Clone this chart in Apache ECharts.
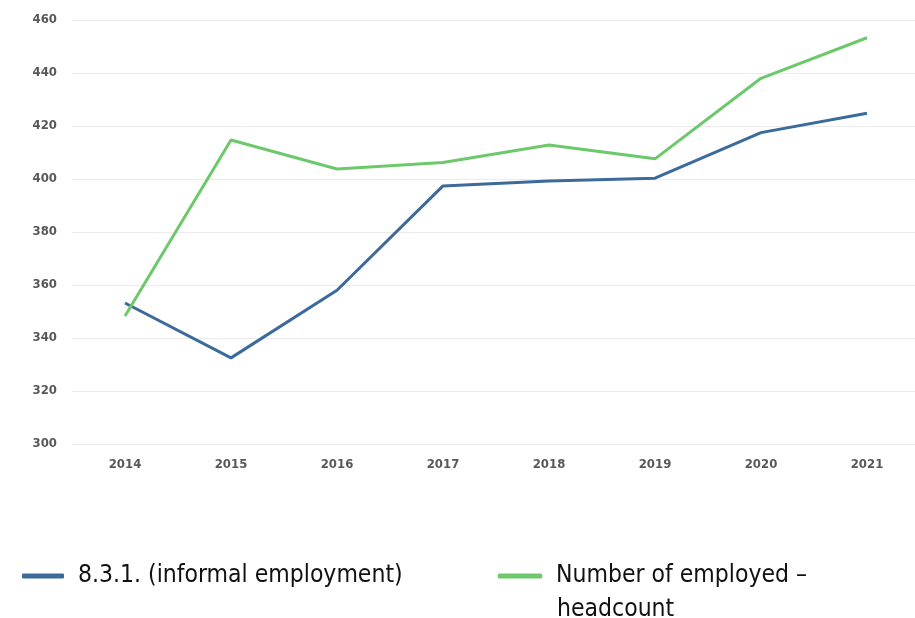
<!DOCTYPE html>
<html>
<head>
<meta charset="utf-8">
<script src="https://cdn.jsdelivr.net/npm/echarts@6/dist/echarts.min.js"></script>
<style>
  html, body { margin: 0; padding: 0; background: #ffffff; overflow: hidden; }
  /* the plot area runs slightly past the right edge of the page */
  #chart { width: 925px; height: 618px; }
</style>
</head>
<body>
<div id="chart"></div>
<script>
// Years on the category axis
const years = ['2014', '2015', '2016', '2017', '2018', '2019', '2020', '2021'];
// 8.3.1. informal employment
const informal = [353.2, 332.5, 358.0, 397.4, 399.2, 400.3, 417.5, 424.8];
// Number of employed – headcount
const employed = [348.3, 414.7, 403.8, 406.2, 412.8, 407.6, 438.0, 453.3];

const nameInformal = '8.3.1. (informal employment)';
const nameEmployed = 'Number of employed – headcount';
const employedLines = ['Number of employed –', 'headcount'];

const chart = echarts.init(document.getElementById('chart'), null, { renderer: 'canvas' });

const condensed = '"DejaVu Sans Condensed", "Liberation Sans Narrow", sans-serif';
const axisFont = {
  color: '#585858',
  fontFamily: condensed,
  fontWeight: 'bold',
  fontSize: 13
};
const legendText = {
  color: '#111111',
  fontFamily: condensed,
  fontSize: 24.5,
  lineHeight: 28,
  padding: [0, 0, 0, 9]
};

chart.setOption({
  backgroundColor: '#ffffff',
  animation: false,
  grid: { left: 72, right: 5, top: 20, bottom: 174 },
  legend: [
    {
      data: [nameInformal],
      left: 22, top: 562, padding: 0,
      itemWidth: 42, itemHeight: 5, icon: 'roundRect',
      textStyle: legendText
    },
    {
      data: [nameEmployed],
      left: 498, top: 562, padding: 0,
      itemWidth: 44, itemHeight: 5, icon: 'roundRect',
      formatter: () => employedLines[0],
      textStyle: legendText
    }
  ],
  graphic: [
    {
      type: 'text',
      left: 557, top: 597,
      style: {
        text: employedLines[1],
        fill: '#111111',
        font: '24.5px ' + condensed
      }
    }
  ],
  xAxis: {
    type: 'category',
    data: years,
    boundaryGap: true,
    axisLine: { show: false },
    axisTick: { show: false },
    axisLabel: Object.assign({ margin: 14 }, axisFont)
  },
  yAxis: {
    type: 'value',
    min: 300, max: 460, interval: 20,
    axisLine: { show: false },
    axisTick: { show: false },
    axisLabel: Object.assign({ margin: 15 }, axisFont),
    splitLine: { lineStyle: { color: '#ebebeb', width: 1 } }
  },
  series: [
    {
      name: nameInformal,
      type: 'line',
      data: informal,
      symbol: 'none',
      lineStyle: { color: '#3b6a9b', width: 3 },
      itemStyle: { color: '#3b6a9b' }
    },
    {
      name: nameEmployed,
      type: 'line',
      data: employed,
      symbol: 'none',
      lineStyle: { color: '#6cc86a', width: 3 },
      itemStyle: { color: '#6cc86a' }
    }
  ]
});
</script>
</body>
</html>
